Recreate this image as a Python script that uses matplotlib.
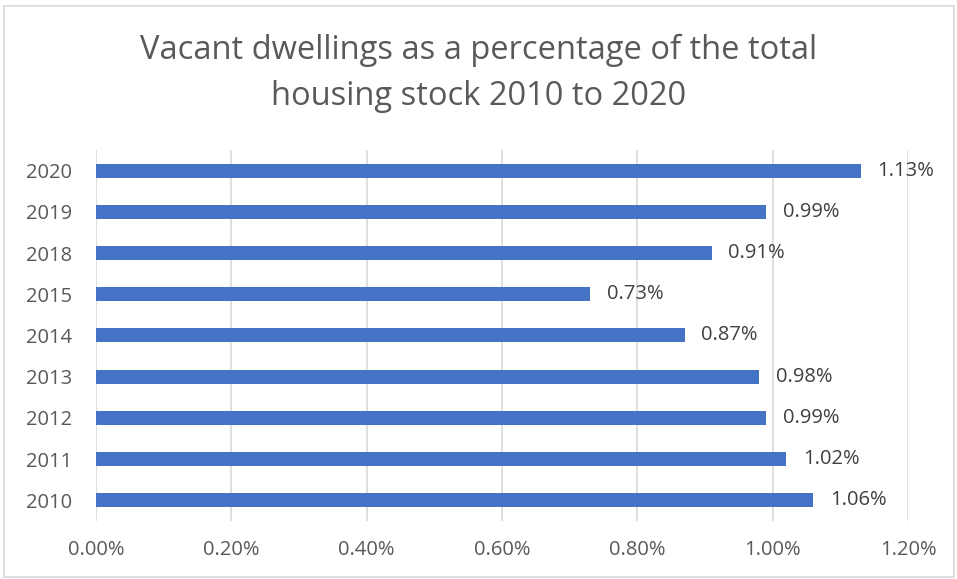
import matplotlib.pyplot as plt
from matplotlib.patches import Rectangle
from matplotlib.ticker import FuncFormatter

# data (bottom to top)
years = ['2010', '2011', '2012', '2013', '2014', '2015', '2018', '2019', '2020']
vacant_pct = [1.06, 1.02, 0.99, 0.98, 0.87, 0.73, 0.91, 0.99, 1.13]
x_ticks = [0.0, 0.2, 0.4, 0.6, 0.8, 1.0, 1.2]

plt.rcParams['font.family'] = ['Open Sans', 'DejaVu Sans']

fig = plt.figure(figsize=(9.57, 5.79), dpi=100)
ax = fig.add_axes([0.1003, 0.1002, 0.8485, 0.6408])

pos = range(len(years))
ax.barh(pos, vacant_pct, height=0.34, color='#4472C4', zorder=3)

for y, v in zip(pos, vacant_pct):
    ax.annotate(f'{v:.2f}%', (v, y), xytext=(12, 0), textcoords='offset points',
                va='center', ha='left', fontsize=14.5, color='#404040')

ax.set_xlim(0, 1.2)
ax.set_ylim(-0.5, len(years) - 0.5)
ax.set_xticks(x_ticks)
ax.xaxis.set_major_formatter(FuncFormatter(lambda v, p: f'{v:.2f}%'))
ax.set_yticks(list(pos))
ax.set_yticklabels(years)
ax.tick_params(axis='both', length=0, labelsize=14.5, colors='#595959')
ax.tick_params(axis='x', pad=14)
ax.tick_params(axis='y', pad=17)
ax.grid(axis='x', color='#d9d9d9', linewidth=1.2, zorder=0)
for s in ax.spines.values():
    s.set_visible(False)

fig.text(0.5, 0.873, 'Vacant dwellings as a percentage of the total\nhousing stock 2010 to 2020',
         ha='center', va='center', fontsize=23.5, color='#595959', linespacing=1.5)

fig.patches.append(Rectangle((4 / 957, 2 / 579), 950 / 957, 571 / 579, transform=fig.transFigure,
                             fill=False, edgecolor='#d9d9d9', linewidth=1.2))

fig.savefig('out.png', dpi=100)
